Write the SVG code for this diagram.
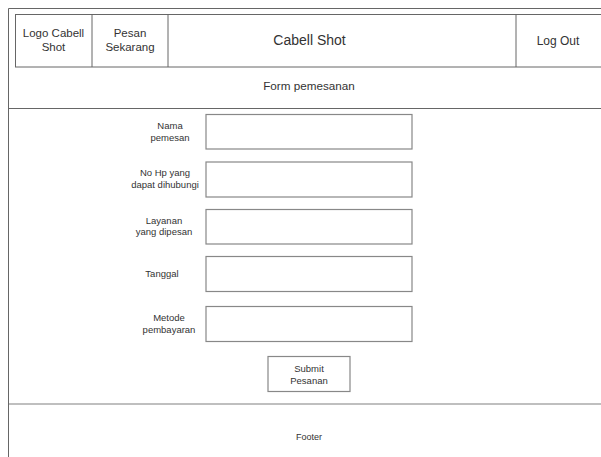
<svg xmlns="http://www.w3.org/2000/svg" width="601" height="457" viewBox="0 0 601 457">
<style>
text{font-family:"Liberation Sans",Arial,sans-serif;fill:#333;text-anchor:middle}
.ln{stroke:#666;stroke-width:1;fill:none}
.box{fill:#fff;stroke:#888;stroke-width:1.2}
.lbl{font-size:9.5px}
.hd{font-size:11.5px}
</style>
<rect width="601" height="457" fill="#fff"/>
<g id="frame">
<path class="ln" d="M8.5 470V8.5H610"/>
<line class="ln" x1="8.5" y1="108.5" x2="610" y2="108.5"/>
<line x1="9" y1="404" x2="610" y2="404" stroke="#aaa" stroke-width="1.5"/>
</g>
<g id="header">
<rect x="15.5" y="14.5" width="600" height="52.5" fill="#fff" stroke="#666"/>
<line class="ln" x1="92" y1="14.5" x2="92" y2="67"/>
<line class="ln" x1="168" y1="14.5" x2="168" y2="67"/>
<line class="ln" x1="516" y1="14.5" x2="516" y2="67"/>
</g>
<g id="logo"><text class="hd" x="53.5" y="37">Logo Cabell</text><text class="hd" x="53.5" y="51">Shot</text></g>
<g id="pesan"><text class="hd" x="130" y="37">Pesan</text><text class="hd" x="130" y="51">Sekarang</text></g>
<g id="title"><text x="309.5" y="45" font-size="14">Cabell Shot</text></g>
<g id="logout"><text x="558" y="45" font-size="12">Log Out</text></g>
<g id="formtitle"><text x="309" y="90" font-size="11.7">Form pemesanan</text></g>
<g id="nama"><text class="lbl" x="170" y="129">Nama</text><text class="lbl" x="170" y="140.5">pemesan</text><rect class="box" x="206" y="114.5" width="206" height="34.5"/></g>
<g id="nohp"><text class="lbl" x="165" y="176">No Hp yang</text><text class="lbl" x="165" y="187.5">dapat dihubungi</text><rect class="box" x="206" y="162" width="206" height="35"/></g>
<g id="layanan"><text class="lbl" x="164" y="223.5">Layanan</text><text class="lbl" x="164" y="235">yang dipesan</text><rect class="box" x="206" y="209.5" width="206" height="34.5"/></g>
<g id="tanggal"><text class="lbl" x="162" y="277">Tanggal</text><rect class="box" x="206" y="256.5" width="206" height="35"/></g>
<g id="metode"><text class="lbl" x="169" y="321">Metode</text><text class="lbl" x="169" y="332.5">pembayaran</text><rect class="box" x="206" y="306.5" width="206" height="35"/></g>
<g id="submit"><rect class="box" x="268" y="356.5" width="82" height="35"/><text class="lbl" x="309" y="372">Submit</text><text class="lbl" x="309" y="383.5">Pesanan</text></g>
<g id="footer"><text x="309" y="440" font-size="9">Footer</text></g>
</svg>
